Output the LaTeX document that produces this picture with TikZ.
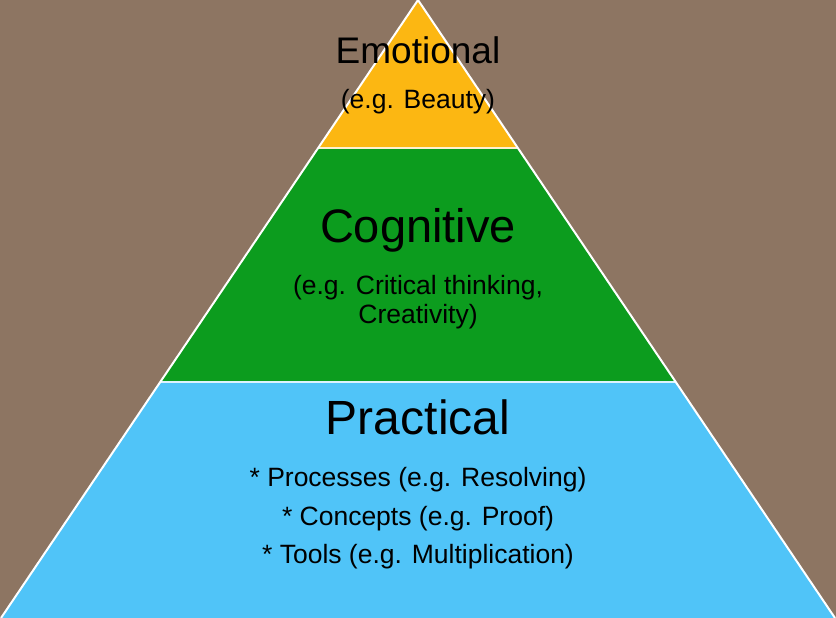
\documentclass[tikz,border=0pt]{standalone}
\usepackage{fontspec}
\setmainfont{Liberation Sans}
\definecolor{bgbrown}{RGB}{141,117,98}
\definecolor{emoorange}{RGB}{252,183,18}
\definecolor{coggreen}{RGB}{12,156,30}
\definecolor{pracblue}{RGB}{80,196,248}
\tikzset{
  title/.style={anchor=base,inner sep=0pt,text=black},
  sub/.style={anchor=base,inner sep=0pt,text=black,font=\fontsize{26.5}{28}\selectfont},
}
\begin{document}
\begin{tikzpicture}[x=1pt,y=-1pt]
% Background
\fill[bgbrown] (0,0) rectangle (836,618);
\useasboundingbox (0,0) rectangle (836,618);

% Pyramid corners
\coordinate (apex) at (418,0);
\coordinate (bl) at (1,618);
\coordinate (br) at (835,618);

% Bands
\begin{scope}
\clip (apex) -- (bl) -- (br) -- cycle;
\fill[emoorange] (0,0) rectangle (836,148);
\fill[coggreen] (0,148) rectangle (836,382);
\fill[pracblue] (0,382) rectangle (836,618);
\draw[white!80!emoorange,line width=2.2pt] (0,148) -- (836,148);
\draw[white!80!pracblue,line width=2.2pt] (0,382) -- (836,382);
\end{scope}
\draw[white,line width=2pt,line join=round] (bl) -- (apex) -- (br);

% Emotional
\node[title,font=\fontsize{37}{37}\selectfont] (emotional) at (418,64) {Emotional};
\node[sub] (emotionalsub) at (418,109) {(e.g. Beauty)};

% Cognitive
\node[title,font=\fontsize{47}{47}\selectfont] (cognitive) at (418,242) {Cognitive};
\node[sub] (cognitivesub) at (418,294) {(e.g. Critical thinking,};
\node[sub] (cognitivesubb) at (418,323) {Creativity)};

% Practical
\node[title,font=\fontsize{48}{48}\selectfont] (practical) at (418,434) {Practical};
\node[sub] (process) at (418,486) {* Processes (e.g. Resolving)};
\node[sub] (concept) at (418,525) {* Concepts (e.g. Proof)};
\node[sub] (tool) at (418,563) {* Tools (e.g. Multiplication)};
\end{tikzpicture}
\end{document}
